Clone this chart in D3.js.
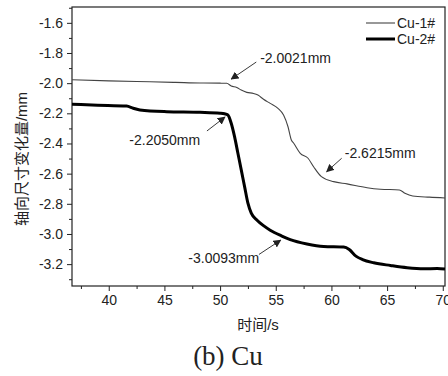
<!DOCTYPE html>
<html>
<head>
<meta charset="utf-8">
<script src="https://cdn.jsdelivr.net/npm/d3@7"></script>
<style>
  html, body { margin: 0; padding: 0; background: #fff; }
  svg text { font-family: "Liberation Sans", Arial, "Noto Sans CJK SC", sans-serif; fill: #222; }
</style>
</head>
<body>
<div id="chart"></div>
<script>
// Cu-1# (thin line)
const cu1Time = [36.7, 40.0, 43.7, 46.0, 48.2, 50.0, 50.6, 51.0, 51.5, 51.9, 52.4, 53.0, 53.4, 53.9, 54.5, 55.2, 55.7, 56.1, 56.4, 56.6, 57.2, 57.9, 58.4, 59.1, 60.2, 61.4, 63.2, 64.4, 66.1, 66.6, 67.3, 68.8, 70.2];
const cu1Value = [-1.977, -1.985, -1.991, -1.995, -1.999, -2.000, -2.001, -2.019, -2.028, -2.046, -2.061, -2.068, -2.079, -2.107, -2.134, -2.167, -2.211, -2.289, -2.377, -2.397, -2.465, -2.498, -2.554, -2.620, -2.653, -2.668, -2.693, -2.703, -2.708, -2.730, -2.748, -2.756, -2.761];

// Cu-2# (thick line)
const cu2Time = [36.7, 39.0, 41.6, 42.2, 42.8, 45.2, 48.2, 50.0, 50.4, 50.7, 51.0, 51.3, 51.6, 51.9, 52.2, 52.5, 52.8, 53.3, 53.9, 54.5, 55.5, 56.3, 57.8, 59.3, 61.1, 61.6, 62.2, 62.8, 63.8, 65.3, 66.8, 68.3, 69.5, 70.2];
const cu2Value = [-2.140, -2.146, -2.152, -2.166, -2.178, -2.189, -2.193, -2.199, -2.203, -2.211, -2.266, -2.355, -2.465, -2.575, -2.686, -2.796, -2.862, -2.907, -2.945, -2.975, -3.012, -3.037, -3.066, -3.083, -3.087, -3.103, -3.147, -3.170, -3.191, -3.209, -3.224, -3.231, -3.229, -3.233];

const xTicks = [40, 45, 50, 55, 60, 65, 70];
const yTicks = [-1.6, -1.8, -2.0, -2.2, -2.4, -2.6, -2.8, -3.0, -3.2];
const seriesNames = ['Cu-1#', 'Cu-2#'];

// annotations: label, text position, arrow tail, arrow head (data coords)
const noteLabels = ['-2.0021mm', '-2.2050mm', '-2.6215mm', '-3.0093mm'];
const noteTextAt = [[53.6, -1.867], [41.85, -2.407], [61.2, -2.495], [47.15, -3.195]];
const noteTail = [[53.25, -1.860], [48.82, -2.317], [60.92, -2.498], [53.49, -3.136]];
const noteHead = [[51.0, -1.973], [50.44, -2.225], [59.57, -2.587], [55.44, -3.041]];

const W = 448, H = 376;
const margin = { top: 7, right: 3, bottom: 90, left: 72 };
const width = W - margin.left - margin.right;
const height = H - margin.top - margin.bottom;

const svg = d3.select('#chart').append('svg')
  .attr('width', W)
  .attr('height', H);

const defs = svg.append('defs');
defs.append('clipPath').attr('id', 'plot-clip')
  .append('rect').attr('width', width).attr('height', height);
defs.append('marker')
  .attr('id', 'arrow')
  .attr('viewBox', '0 0 10 10')
  .attr('refX', 9).attr('refY', 5)
  .attr('markerWidth', 8).attr('markerHeight', 8)
  .attr('markerUnits', 'userSpaceOnUse')
  .attr('orient', 'auto')
  .append('path')
  .attr('d', 'M0,0 L10,5 L0,10 z')
  .attr('fill', '#222');

const g = svg.append('g')
  .attr('transform', `translate(${margin.left},${margin.top})`);

const x = d3.scaleLinear().domain([36.7, 70.2]).range([0, width]);
const y = d3.scaleLinear().domain([-3.345, -1.495]).range([height, 0]);

// minor ticks
const xMinor = d3.range(37.5, 70, 5);
const yMinor = d3.range(-1.5, -3.35, -0.2).map(v => +v.toFixed(1));

g.append('g')
  .attr('transform', `translate(0,${height})`)
  .call(d3.axisBottom(x).tickValues(xMinor).tickSize(3).tickFormat(''))
  .call(a => a.select('.domain').remove());
g.append('g')
  .call(d3.axisLeft(y).tickValues(yMinor).tickSize(3).tickFormat(''))
  .call(a => a.select('.domain').remove());

// major axes
const xAxis = g.append('g')
  .attr('transform', `translate(0,${height})`)
  .call(d3.axisBottom(x).tickValues(xTicks).tickSize(5).tickPadding(4).tickFormat(d3.format('d')));
const yAxis = g.append('g')
  .call(d3.axisLeft(y).tickValues(yTicks).tickSize(5).tickPadding(4).tickFormat(d3.format('.1f')));

[xAxis, yAxis].forEach(a => {
  a.selectAll('text').attr('font-size', 14).attr('fill', '#222')
    .style('font-family', '"Liberation Sans", Arial, sans-serif');
  a.select('.domain').remove();
});
xAxis.selectAll('text').text(d => d);
yAxis.selectAll('text').text(d => d3.format('.1f')(d).replace('−', '-'));
g.selectAll('.tick line').attr('stroke', '#222');

// frame
g.append('rect')
  .attr('width', width).attr('height', height)
  .attr('fill', 'none')
  .attr('stroke', '#222')
  .attr('stroke-width', 1.2);

const line = d3.line()
  .x(d => x(d[0]))
  .y(d => y(d[1]))
  .curve(d3.curveMonotoneX);

const plot = g.append('g').attr('clip-path', 'url(#plot-clip)');

plot.append('path')
  .datum(cu1Time.map((t, i) => [t, cu1Value[i]]))
  .attr('fill', 'none')
  .attr('stroke', '#444')
  .attr('stroke-width', 1.1)
  .attr('d', line);

plot.append('path')
  .datum(cu2Time.map((t, i) => [t, cu2Value[i]]))
  .attr('fill', 'none')
  .attr('stroke', '#000')
  .attr('stroke-width', 3)
  .attr('stroke-linejoin', 'round')
  .attr('d', line);

// annotations
noteLabels.forEach((lab, i) => {
  g.append('line')
    .attr('x1', x(noteTail[i][0])).attr('y1', y(noteTail[i][1]))
    .attr('x2', x(noteHead[i][0])).attr('y2', y(noteHead[i][1]))
    .attr('stroke', '#222')
    .attr('stroke-width', 0.9)
    .attr('marker-end', 'url(#arrow)');
  g.append('text')
    .attr('x', x(noteTextAt[i][0]))
    .attr('y', y(noteTextAt[i][1]))
    .attr('font-size', 14)
    .text(lab);
});

// legend
const legend = g.append('g').attr('transform', `translate(${width - 79},16)`);
seriesNames.forEach((name, i) => {
  const row = legend.append('g').attr('transform', `translate(0,${i * 16})`);
  row.append('line')
    .attr('x1', 0).attr('x2', 29)
    .attr('stroke', i === 0 ? '#444' : '#000')
    .attr('stroke-width', i === 0 ? 1.1 : 3);
  row.append('text')
    .attr('x', 31).attr('y', 5)
    .attr('font-size', 14)
    .text(name);
});

// axis titles
svg.append('text')
  .attr('transform', `translate(27,${margin.top + 152}) rotate(-90)`)
  .attr('text-anchor', 'middle')
  .attr('font-size', 15)
  .text('轴向尺寸变化量/mm');

svg.append('text')
  .attr('x', 258).attr('y', 330)
  .attr('text-anchor', 'middle')
  .attr('font-size', 15)
  .text('时间/s');

svg.append('text')
  .attr('x', 228).attr('y', 365)
  .attr('text-anchor', 'middle')
  .attr('font-size', 27)
  .style('font-family', '"Liberation Serif", "Times New Roman", serif')
  .attr('fill', '#000')
  .text('(b) Cu');
</script>
</body>
</html>
